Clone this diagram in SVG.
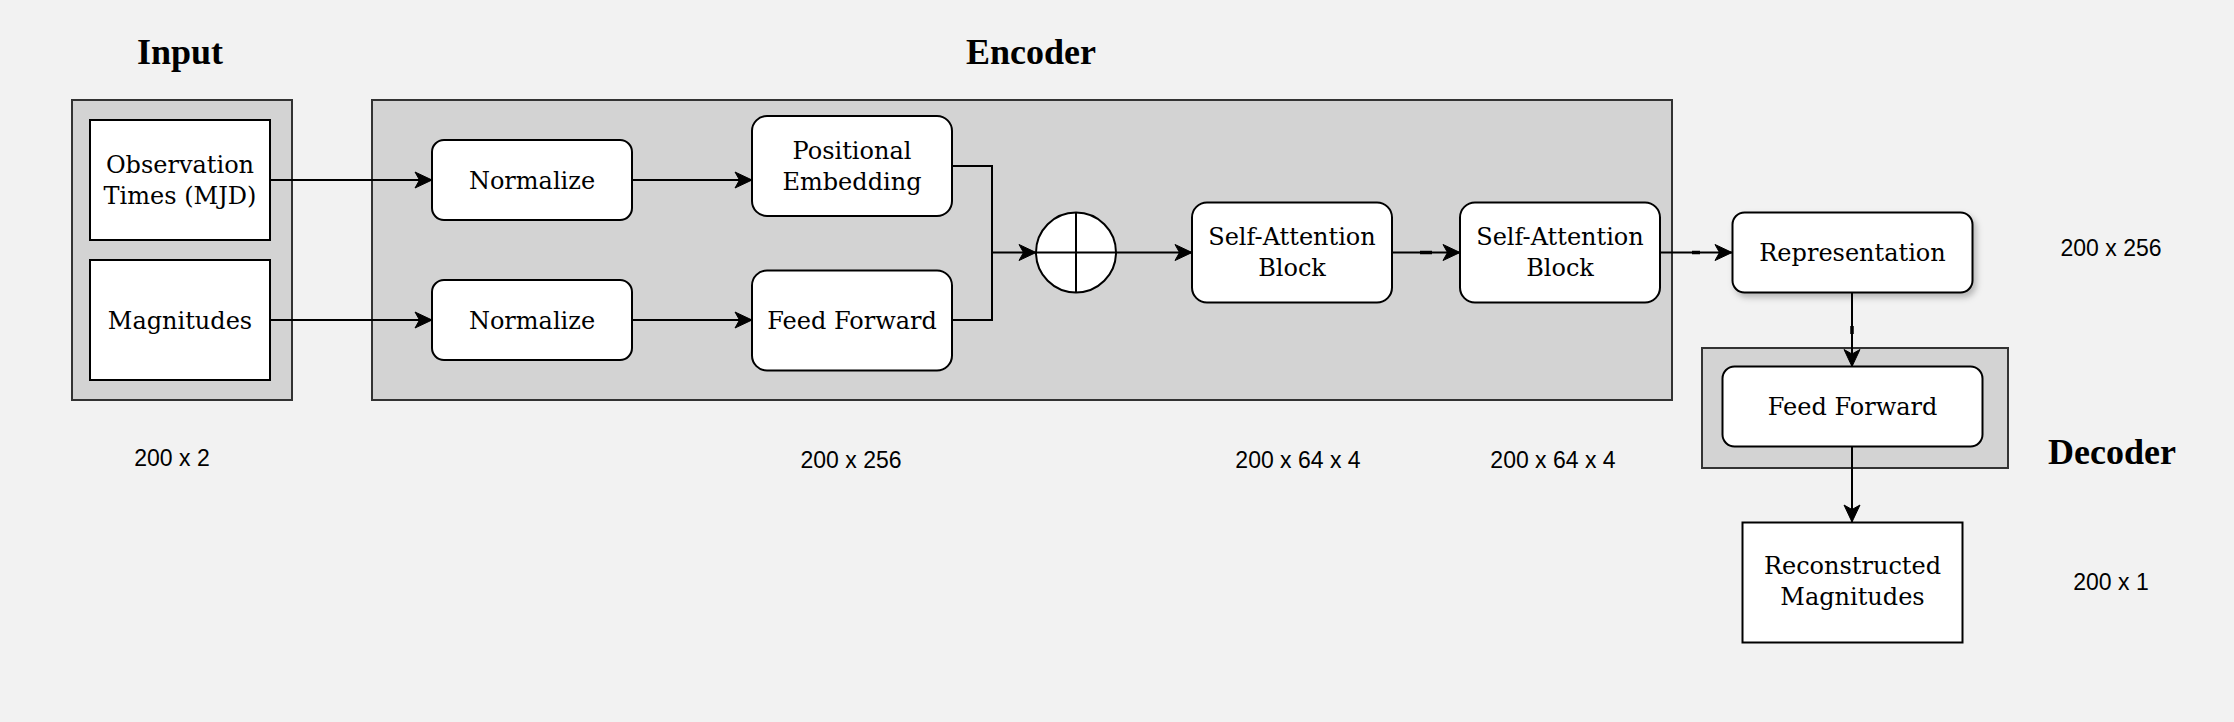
<svg xmlns="http://www.w3.org/2000/svg" width="2234" height="722" viewBox="0 0 2234 722">
<style>
.grp{fill:#d3d3d3;stroke:#333;stroke-width:2}
.node{fill:#fff;stroke:#000;stroke-width:2}
.t{font-family:"DejaVu Serif",serif;font-size:24px;text-anchor:middle;fill:#000}
.title{font-family:"Liberation Serif",serif;font-weight:bold;font-size:36px;text-anchor:middle;fill:#000}
.dim{font-family:"Liberation Sans",Arial,sans-serif;font-size:23px;text-anchor:middle;fill:#000}
.c{fill:none;stroke:#000;stroke-width:2}
.k{fill:none;stroke:#000;stroke-width:3.5}
</style>
<defs>
<marker id="arr" markerUnits="userSpaceOnUse" markerWidth="19" markerHeight="18" viewBox="0 0 19 18" refX="18" refY="9" orient="auto">
<path d="M1,1 L18,9 L1,17 L5.5,9 Z" fill="#000" stroke="#000" stroke-width="1"/>
</marker>
<filter id="sh" x="-10%" y="-10%" width="130%" height="140%">
<feDropShadow dx="3" dy="4" stdDeviation="3" flood-color="#000" flood-opacity="0.25"/>
</filter>
</defs>
<rect width="2234" height="722" fill="#f2f2f2"/>

<g id="input-group">
<rect class="grp" x="72" y="100" width="220" height="300"/>
<text class="title" x="180" y="64">Input</text>
</g>
<g id="encoder-group">
<rect class="grp" x="372" y="100" width="1300" height="300"/>
<text class="title" x="1031" y="64">Encoder</text>
</g>
<g id="decoder-group">
<rect class="grp" x="1702" y="348" width="306" height="120"/>
<text class="title" x="2112" y="464">Decoder</text>
</g>

<g id="connectors">
<path class="c" d="M270,180 L432,180" marker-end="url(#arr)"/>
<path class="c" d="M270,320 L432,320" marker-end="url(#arr)"/>
<path class="c" d="M632,180 L752,180" marker-end="url(#arr)"/>
<path class="c" d="M632,320 L752,320" marker-end="url(#arr)"/>
<path class="c" d="M952,166 L992,166 L992,252.5 L1036,252.5" marker-end="url(#arr)"/>
<path class="c" d="M952,320 L992,320 L992,252.5"/>
<path class="c" d="M1036,252.5 L1192,252.5" marker-end="url(#arr)"/>
<path class="c" d="M1392,252.5 L1460,252.5" marker-end="url(#arr)"/>
<path class="c" d="M1660,252.5 L1732,252.5" marker-end="url(#arr)"/>
<path class="c" d="M1852,292.5 L1852,366.5" marker-end="url(#arr)"/>
<path class="c" d="M1852,446.5 L1852,522" marker-end="url(#arr)"/>
<path class="k" d="M1420,252.5 L1432,252.5 M1692,252.5 L1700,252.5 M1852,326 L1852,334"/>
</g>

<g id="obs-times">
<rect class="node" x="90" y="120" width="180" height="120"/>
<text class="t" x="180" y="173">Observation</text>
<text class="t" x="180" y="204">Times (MJD)</text>
</g>
<g id="magnitudes">
<rect class="node" x="90" y="260" width="180" height="120"/>
<text class="t" x="180" y="328.5">Magnitudes</text>
</g>
<g id="normalize-1">
<rect class="node" x="432" y="140" width="200" height="80" rx="12"/>
<text class="t" x="532" y="188.5">Normalize</text>
</g>
<g id="normalize-2">
<rect class="node" x="432" y="280" width="200" height="80" rx="12"/>
<text class="t" x="532" y="328.5">Normalize</text>
</g>
<g id="positional-embedding">
<rect class="node" x="752" y="116" width="200" height="100" rx="15"/>
<text class="t" x="852" y="158.5">Positional</text>
<text class="t" x="852" y="189.5">Embedding</text>
</g>
<g id="feed-forward-enc">
<rect class="node" x="752" y="270.5" width="200" height="100" rx="15"/>
<text class="t" x="852" y="328.5">Feed Forward</text>
</g>
<g id="sum">
<circle cx="1076" cy="252.5" r="40" fill="#fff" stroke="#000" stroke-width="2"/>
<path d="M1076,212.5 L1076,292.5 M1036,252.5 L1116,252.5" stroke="#000" stroke-width="2" fill="none"/>
</g>
<g id="self-attention-1">
<rect class="node" x="1192" y="202.5" width="200" height="100" rx="15"/>
<text class="t" x="1292" y="245">Self-Attention</text>
<text class="t" x="1292" y="276">Block</text>
</g>
<g id="self-attention-2">
<rect class="node" x="1460" y="202.5" width="200" height="100" rx="15"/>
<text class="t" x="1560" y="245">Self-Attention</text>
<text class="t" x="1560" y="276">Block</text>
</g>
<g id="representation">
<rect class="node" x="1732.5" y="212.5" width="240" height="80" rx="12" filter="url(#sh)"/>
<text class="t" x="1852.5" y="261">Representation</text>
</g>
<g id="feed-forward-dec">
<rect class="node" x="1722.5" y="366.5" width="260" height="80" rx="12"/>
<text class="t" x="1852.5" y="415">Feed Forward</text>
</g>
<g id="reconstructed">
<rect class="node" x="1742.5" y="522.5" width="220" height="120"/>
<text class="t" x="1852.5" y="573.5">Reconstructed</text>
<text class="t" x="1852.5" y="604.5">Magnitudes</text>
</g>

<g id="dims">
<text class="dim" x="172" y="466">200 x 2</text>
<text class="dim" x="851" y="468">200 x 256</text>
<text class="dim" x="1298" y="468">200 x 64 x 4</text>
<text class="dim" x="1553" y="468">200 x 64 x 4</text>
<text class="dim" x="2111" y="256">200 x 256</text>
<text class="dim" x="2111" y="590">200 x 1</text>
</g>
</svg>
